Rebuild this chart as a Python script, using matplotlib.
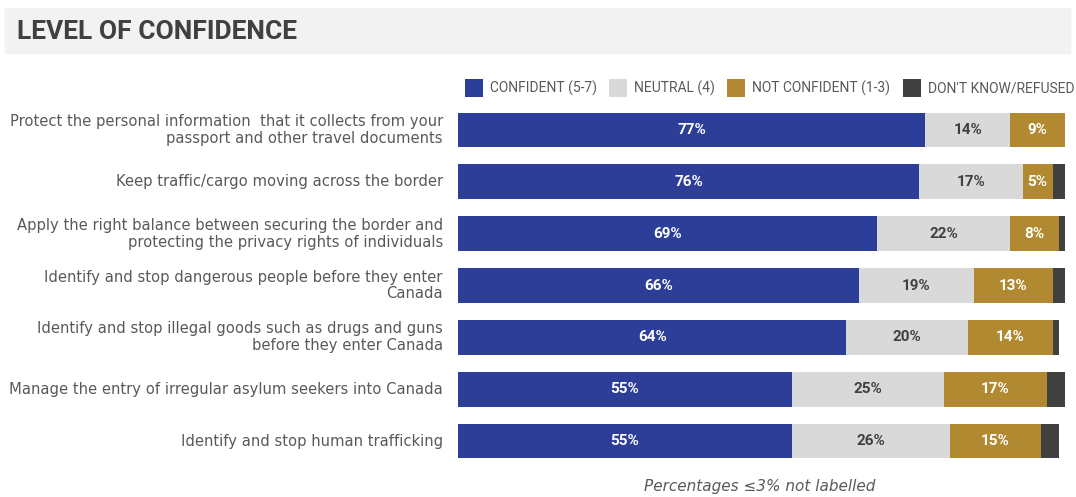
import numpy as np
import matplotlib
matplotlib.use("Agg")
import matplotlib.pyplot as plt
from matplotlib.patches import Rectangle, Patch

categories = [
    "Protect the personal information  that it collects from your\npassport and other travel documents",
    "Keep traffic/cargo moving across the border",
    "Apply the right balance between securing the border and\nprotecting the privacy rights of individuals",
    "Identify and stop dangerous people before they enter\nCanada",
    "Identify and stop illegal goods such as drugs and guns\nbefore they enter Canada",
    "Manage the entry of irregular asylum seekers into Canada",
    "Identify and stop human trafficking",
]
confident = [77, 76, 69, 66, 64, 55, 55]
neutral = [14, 17, 22, 19, 20, 25, 26]
not_confident = [9, 5, 8, 13, 14, 17, 15]
dont_know = [0, 2, 1, 2, 1, 3, 3]

series_names = ["CONFIDENT (5-7)", "NEUTRAL (4)", "NOT CONFIDENT (1-3)", "DON'T KNOW/REFUSED"]
colors = ["#2D3E98", "#D9D9D9", "#B08930", "#404040"]
label_colors = ["white", "#404040", "white", "white"]

W, H = 1076, 497
fig = plt.figure(figsize=(W / 100, H / 100), dpi=100)

# title band
fig.patches.append(Rectangle((5 / W, 1 - 53 / H), 1065 / W, 45 / H,
                             transform=fig.transFigure, color="#F2F2F2", zorder=0))
fig.text(17 / W, 1 - 32 / H, "LEVEL OF CONFIDENCE", fontsize=19, fontweight="bold",
         family="Roboto", color="#404040", va="center")

ax = fig.add_axes([458 / W, 1 - 467 / H, 607 / W, 363 / H])
y = np.arange(len(categories))
data = [confident, neutral, not_confident, dont_know]
left = np.zeros(len(categories))
for vals, col, lc in zip(data, colors, label_colors):
    vals = np.array(vals, dtype=float)
    ax.barh(y, vals, left=left, height=0.67, color=col, edgecolor="none")
    for yi, l, v in zip(y, left, vals):
        if v > 3:
            ax.text(l + v / 2, yi, f"{int(v)}%", ha="center", va="center",
                    color=lc, fontsize=11, fontweight="bold", family="Roboto")
    left += vals

ax.set_xlim(0, 100)
ax.set_ylim(len(categories) - 0.5, -0.5)
ax.axis("off")

for yi, cat in zip(y, categories):
    ax.text(-2.5, yi, cat, ha="right", va="center", fontsize=10.6, color="#595959",
            linespacing=1.15)

handles = [Patch(facecolor=c, edgecolor="none") for c in colors]
fig.legend(handles, series_names, loc="center left", bbox_to_anchor=(452 / W, 1 - 88 / H),
           ncol=4, frameon=False, handlelength=1.3, handleheight=1.7,
           handletextpad=0.5, columnspacing=0.9, labelcolor="#595959",
           prop={"family": "Roboto", "size": 10})

fig.text(760 / W, 1 - 487 / H, "Percentages \u22643% not labelled", ha="center", va="center",
         fontsize=11, style="italic", color="#595959")

fig.savefig("out.png", dpi=100, facecolor="white")
